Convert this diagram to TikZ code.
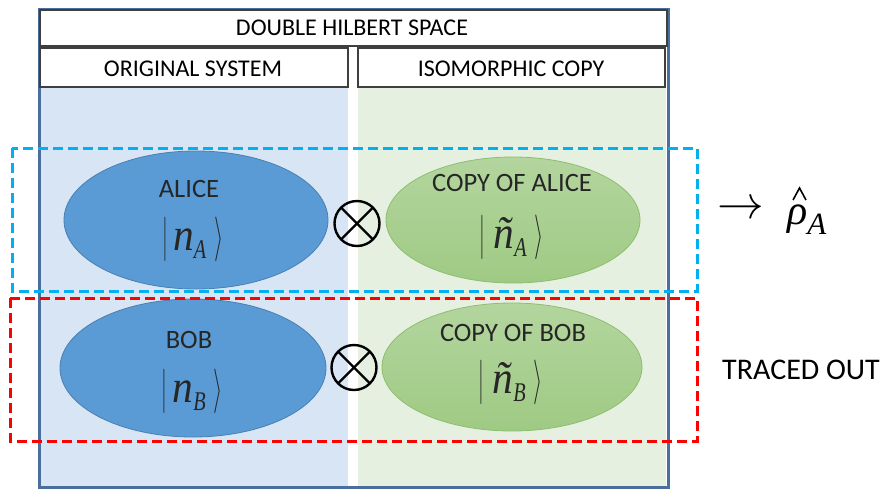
\documentclass[tikz,border=0pt]{standalone}
\usepackage{amsmath}
\usepackage{fontspec}
\setmainfont{Carlito}
\newfontfamily\tms{Liberation Serif}
\usetikzlibrary{shapes.geometric}
\definecolor{frameblue}{HTML}{4A6F9C}
\definecolor{panelblue}{HTML}{D7E5F4}
\definecolor{panelgreen}{HTML}{E6F0E0}
\definecolor{ellblue}{HTML}{5B9BD5}
\definecolor{ellblueb}{HTML}{4A7FB0}
\definecolor{ellgreentop}{HTML}{B3D59E}
\definecolor{ellgreenbot}{HTML}{9FCA84}
\definecolor{ellgreenb}{HTML}{8DBE6F}
\definecolor{hdrborder}{HTML}{3F3F3F}
\definecolor{cyandash}{HTML}{00B0F0}
\definecolor{reddash}{HTML}{FF0000}
\definecolor{elltext}{HTML}{262626}
% ket |x_y> built from scaled glyphs
\newcommand{\vbar}{\fontsize{20}{20}\selectfont\scalebox{1}[2.15]{$|$}}
\newcommand{\rang}{\fontsize{20}{20}\selectfont\scalebox{1.15}[2.15]{$\rangle$}}
\newcommand{\kett}[3]{\vbar\hspace{#3}\scalebox{0.9}[1]{\fontsize{46}{46}\selectfont\tms\itshape #1}\raisebox{-8pt}{\scalebox{0.75}[1]{\fontsize{27}{27}\selectfont\tms\itshape #2}}\hspace{8pt}\rang}
\begin{document}
\begin{tikzpicture}[x=1pt,y=-1pt,
  hdr/.style={draw=hdrborder,line width=1.5pt,fill=white},
  hdrtext/.style={font=\fontsize{24}{28}\selectfont,text=black,inner sep=0pt},
  bluestate/.style={ellipse,fill=ellblue,draw=ellblueb,line width=0.8pt,inner sep=0pt},
  greenstate/.style={ellipse,top color=ellgreentop,bottom color=ellgreenbot,draw=ellgreenb,line width=0.8pt,inner sep=0pt},
  elabel/.style={font=\fontsize{26.5}{30}\selectfont,text=elltext,inner sep=0pt},
  ketlabel/.style={text=elltext,inner sep=0pt},
  otimesnode/.style={circle,draw=black,line width=2.4pt,minimum size=45pt,inner sep=0pt,
    path picture={\draw[line width=2.4pt,black] ([shift={(-16pt,-16pt)}]path picture bounding box.center) -- ([shift={(16pt,16pt)}]path picture bounding box.center);
                  \draw[line width=2.4pt,black] ([shift={(-16pt,16pt)}]path picture bounding box.center) -- ([shift={(16pt,-16pt)}]path picture bounding box.center);}},
  dashbox/.style={line width=3pt,dash pattern=on 10pt off 5pt}
]
\useasboundingbox (0,0) rectangle (889,488);
% panels
\fill[panelblue] (40,87) rectangle (348,486);
\fill[panelgreen] (358,87) rectangle (666,486);
% outer frame
\draw[frameblue,line width=3pt] (39,9) rectangle (668,487);
% headers
\draw[hdr] (40,10) rectangle (667,46);
\node[hdrtext] (title) at (352,28) {DOUBLE HILBERT SPACE};
\draw[hdr] (40,48) rectangle (348,87);
\node[hdrtext] (orig) at (193,69) {ORIGINAL SYSTEM};
\draw[hdr] (358,48) rectangle (665,87);
\node[hdrtext] (iso) at (511,69) {ISOMORPHIC COPY};
% ellipses
\node[bluestate,minimum width=264pt,minimum height=138pt] (alice) at (196,220) {};
\node[bluestate,minimum width=266pt,minimum height=138pt] (bob) at (193,368) {};
\node[greenstate,minimum width=254pt,minimum height=126pt] (calice) at (513,220) {};
\node[greenstate,minimum width=260pt,minimum height=128pt] (cbob) at (512,367) {};
% tensor products
\node[otimesnode] (ta) at (357,223.5) {};
\node[otimesnode] (tb) at (354,367.5) {};
% dashed boxes
\draw[dashbox,cyandash] (12,148) rectangle (697,291);
\draw[dashbox,reddash] (10,298) rectangle (697,441);
% labels
\node[elabel] (alicet) at (189,189) {ALICE};
\node[ketlabel] (aliceket) at (193,239.5) {\kett{n}{A}{5pt}};
\node[elabel] (bobt) at (189,340) {BOB};
\node[ketlabel] (bobket) at (192.5,391.5) {\kett{n}{B}{5pt}};
\node[elabel] (calicet) at (512,183) {COPY OF ALICE};
\node[ketlabel] (caliceket) at (512,237) {\kett{ñ}{A}{8pt}};
\node[elabel] (cbobt) at (513,333) {COPY OF BOB};
\node[ketlabel] (cbobket) at (511,382.5) {\kett{ñ}{B}{8pt}};
% reduced density matrix
\node[inner sep=0pt,font=\fontsize{20}{20}\selectfont] (arrow) at (740.5,210) {\scalebox{2.25}{$\rightarrow$}};
\node[inner sep=0pt,anchor=base west,font=\fontsize{42}{44}\selectfont\tms\itshape] (rho) at (787,224)
  {ρ\raisebox{-10pt}{\fontsize{31}{31}\selectfont A}};
\draw[line width=1.6pt,line join=miter] ([shift={(6,-24)}]rho.base west) -- ([shift={(12.5,-36)}]rho.base west) -- ([shift={(19,-24)}]rho.base west);
\node[font=\fontsize{30}{34}\selectfont,inner sep=0pt,anchor=west] (traced) at (722,370) {TRACED OUT};
\end{tikzpicture}
\end{document}
